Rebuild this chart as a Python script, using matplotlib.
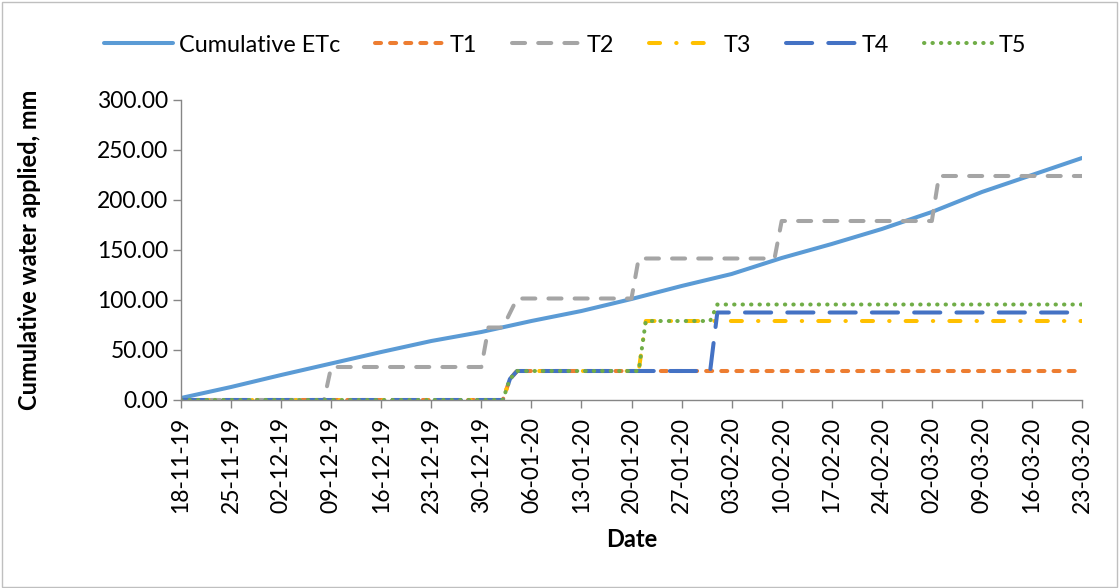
# -*- coding: utf-8 -*-

import pandas as pd
import matplotlib
matplotlib.use("Agg")
import matplotlib.pyplot as plt
import matplotlib.dates as mdates
from matplotlib.ticker import FuncFormatter
from matplotlib.patches import Rectangle

# ===================== données =====================
etc_dates = ["2019-11-18", "2019-11-25", "2019-12-02", "2019-12-09", "2019-12-16",
             "2019-12-23", "2019-12-30", "2020-01-06", "2020-01-13", "2020-01-20",
             "2020-01-27", "2020-02-03", "2020-02-10", "2020-02-17", "2020-02-24",
             "2020-03-02", "2020-03-09", "2020-03-16", "2020-03-23"]
etc_values = [2, 13, 25, 36.5, 48, 59, 68, 79, 89, 101,
              114, 126, 142, 156, 171, 188, 208, 225, 242]

t1_dates = ["2019-11-18", "2020-01-02", "2020-01-03", "2020-01-04", "2020-03-23"]
t1_values = [0, 0, 21, 29, 29]

t2_dates = ["2019-11-18", "2019-12-08", "2019-12-09", "2019-12-30", "2019-12-31",
            "2020-01-02", "2020-01-04", "2020-01-20", "2020-01-21", "2020-02-09",
            "2020-02-10", "2020-03-02", "2020-03-03", "2020-03-23"]
t2_values = [0, 0, 33, 33, 72.5, 72.5, 101.5, 101.5, 141.5, 141.5, 179, 179, 224, 224]

t3_dates = ["2019-11-18", "2020-01-02", "2020-01-03", "2020-01-04", "2020-01-21",
            "2020-01-22", "2020-03-23"]
t3_values = [0, 0, 21, 29, 29, 79, 79]

t4_dates = ["2019-11-18", "2020-01-02", "2020-01-03", "2020-01-04", "2020-01-31",
            "2020-02-01", "2020-03-23"]
t4_values = [0, 0, 21, 29, 29, 87.5, 87.5]

t5_dates = ["2019-11-18", "2020-01-02", "2020-01-03", "2020-01-04", "2020-01-21",
            "2020-01-22", "2020-01-31", "2020-02-01", "2020-03-23"]
t5_values = [0, 0, 21, 29, 29, 79, 79, 95.5, 95.5]

labels = ["Cumulative ETc", "T1", "T2", "T3", "T4", "T5"]
couleurs = ["#5B9BD5", "#ED7D31", "#A5A5A5", "#FFC000", "#4472C4", "#70AD47"]
tirets = [None, (1.5, 2.25), (3.25, 3.25), (2.75, 4.0, 0.1, 4.0), (6.5, 4.0), (0.1, 2.0)]
# ========================================================================

plt.rcParams["font.family"] = ["Lato", "DejaVu Sans"]

W, H = 1119, 588
fig = plt.figure(figsize=(W / 100, H / 100), dpi=100)
ax = fig.add_axes([181 / W, 1 - 400 / H, (1082 - 181) / W, 300 / H])

series = [
    (etc_dates, etc_values),
    (t1_dates, t1_values),
    (t2_dates, t2_values),
    (t3_dates, t3_values),
    (t4_dates, t4_values),
    (t5_dates, t5_values),
]

for (d, v), lab, c, ds in zip(series, labels, couleurs, tirets):
    x = pd.to_datetime(d)
    ln, = ax.plot(x, v, color=c, lw=2.9, label=lab,
                  solid_capstyle="round", dash_capstyle="round",
                  solid_joinstyle="round", dash_joinstyle="round")
    if ds is not None:
        ln.set_dashes(ds)

debut, fin = pd.Timestamp("2019-11-18"), pd.Timestamp("2020-03-23")
ax.set_xlim(debut, fin)
ax.set_ylim(0, 300)
ax.set_xticks(pd.date_range(debut, fin, freq="7D"))
ax.xaxis.set_major_formatter(mdates.DateFormatter("%d-%m-%y"))
ax.set_yticks(range(0, 301, 50))
ax.yaxis.set_major_formatter(FuncFormatter(lambda v, p: f"{v:.2f}"))

for s in ["top", "right"]:
    ax.spines[s].set_visible(False)
for s in ["left", "bottom"]:
    ax.spines[s].set_color("#868686")
    ax.spines[s].set_linewidth(1)

ax.tick_params(axis="both", direction="out", length=6, width=1, color="#868686",
               labelsize=16.5, labelcolor="black")
ax.tick_params(axis="x", rotation=90, pad=6)
ax.tick_params(axis="y", pad=3)

ax.set_xlabel("Date", fontsize=17, fontweight="bold", labelpad=11)
fig.text(30 / W, 1 - 250 / H, "Cumulative water applied, mm", rotation=90,
         ha="center", va="center", fontsize=17, fontweight="bold")

fig.legend(ncol=6, loc="center", bbox_to_anchor=(565 / W, 1 - 45 / H), frameon=False,
           fontsize=16.8, handlelength=2.95, handletextpad=0.25, columnspacing=1.5)

fig.patches.append(Rectangle((2 / W, 1 / H), (W - 4) / W, (H - 3) / H, transform=fig.transFigure,
                             fill=False, ec="#BFBFBF", lw=1))

fig.savefig("out.png", dpi=100)
